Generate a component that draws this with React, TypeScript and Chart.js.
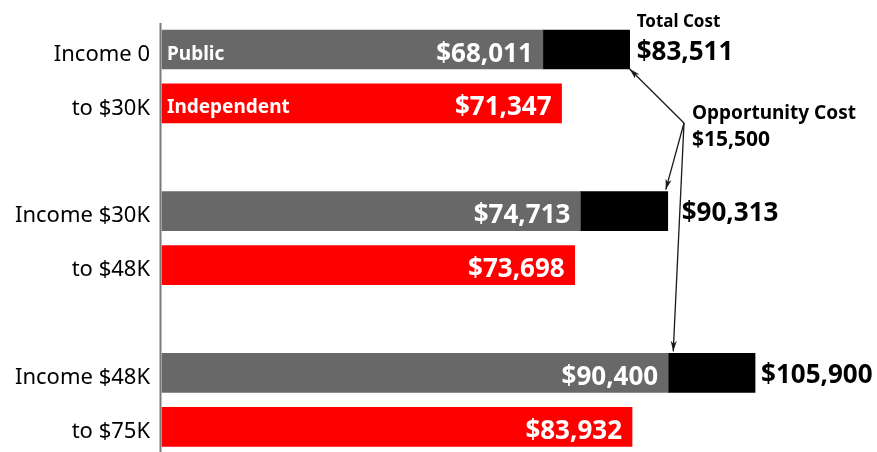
import { useEffect, useRef } from "react";
import { Chart, registerables } from "chart.js";

Chart.register(...registerables);

const FONT = '"Noto Sans", sans-serif';

// ---- data ----
const categories = ["Income 0", "to $30K", "", "Income $30K", "to $48K", "", "Income $48K", "to $75K"];
const publicRows = [0, 3, 6];
const independentRows = [1, 4, 7];
const publicCost = [68011, 74713, 90400];
const opportunityCost = [15500, 15600, 15500];
const totalCost = [83511, 90313, 105900];
const independentCost = [71347, 73698, 83932];
const opportunityLabel = "$15,500";

const GRAY = "#686868";
const RED = "#ff0000";
const BLACK = "#000000";

const fmt = (v: number) => "$" + v.toLocaleString("en-US");

function spread(rows: number[], vals: number[]) {
  const arr: (number | null)[] = categories.map(() => null);
  rows.forEach((r, i) => (arr[r] = vals[i]));
  return arr;
}

function drawArrow(ctx: CanvasRenderingContext2D, x0: number, y0: number, x1: number, y1: number) {
  ctx.beginPath();
  ctx.moveTo(x0, y0);
  ctx.lineTo(x1, y1);
  ctx.stroke();
  const a = Math.atan2(y1 - y0, x1 - x0);
  const L = 11;
  const w = 0.28;
  ctx.beginPath();
  ctx.moveTo(x1, y1);
  ctx.lineTo(x1 - L * Math.cos(a - w), y1 - L * Math.sin(a - w));
  ctx.lineTo(x1 - L * 0.7 * Math.cos(a), y1 - L * 0.7 * Math.sin(a));
  ctx.lineTo(x1 - L * Math.cos(a + w), y1 - L * Math.sin(a + w));
  ctx.closePath();
  ctx.fill();
}

const annotationPlugin = {
  id: "annotations",
  afterDatasetsDraw(chart: any) {
    const ctx: CanvasRenderingContext2D = chart.ctx;
    const xs = chart.scales.x;
    const area = chart.chartArea;
    const pubMeta = chart.getDatasetMeta(0);
    const oppMeta = chart.getDatasetMeta(1);
    const indMeta = chart.getDatasetMeta(2);
    ctx.save();

    // axis line
    ctx.strokeStyle = "#7a7a7a";
    ctx.lineWidth = 2;
    ctx.beginPath();
    ctx.moveTo(area.left - 1.5, 23);
    ctx.lineTo(area.left - 1.5, chart.height);
    ctx.stroke();

    // values inside bars
    ctx.fillStyle = "#ffffff";
    ctx.textAlign = "right";
    ctx.textBaseline = "alphabetic";
    ctx.font = `bold 26px ${FONT}`;
    publicRows.forEach((r, i) => {
      const el = pubMeta.data[r];
      ctx.fillText(fmt(publicCost[i]), el.x - 10, el.y + 12);
    });
    independentRows.forEach((r, i) => {
      const el = indMeta.data[r];
      ctx.fillText(fmt(independentCost[i]), el.x - 10, el.y + 12);
    });

    // series names
    ctx.textAlign = "left";
    ctx.font = `bold 19px ${FONT}`;
    const p0 = pubMeta.data[publicRows[0]];
    ctx.fillText("Public", p0.base + 5, p0.y + 10);
    const i0 = indMeta.data[independentRows[0]];
    ctx.fillText("Independent", i0.base + 5, i0.y + 10);

    // totals
    ctx.fillStyle = "#000000";
    ctx.font = `bold 26px ${FONT}`;
    const totalOffsets = [7, 14, 6];
    publicRows.forEach((r, i) => {
      const el = oppMeta.data[r];
      ctx.fillText(fmt(totalCost[i]), el.x + totalOffsets[i], el.y + 10);
    });
    const t0 = oppMeta.data[publicRows[0]];
    ctx.font = `bold 17px ${FONT}`;
    ctx.fillText("Total Cost", t0.x + 7, t0.y - 23);

    // opportunity cost note
    const noteX = 692;
    const noteY = 119;
    ctx.font = `bold 19px ${FONT}`;
    ctx.fillText("Opportunity Cost", noteX, noteY);
    ctx.font = `bold 21px ${FONT}`;
    ctx.fillText(opportunityLabel, noteX, noteY + 27);

    // arrows
    const ox = noteX - 8;
    const oy = noteY + 4;
    ctx.strokeStyle = "#1a1a1a";
    ctx.fillStyle = "#1a1a1a";
    ctx.lineWidth = 1.3;
    const a0 = oppMeta.data[publicRows[0]];
    drawArrow(ctx, ox, oy, a0.x, a0.y + a0.height / 2);
    const a1 = oppMeta.data[publicRows[1]];
    drawArrow(ctx, ox, oy, a1.x - 2, a1.y - a1.height / 2 - 2);
    const a2 = oppMeta.data[publicRows[2]];
    drawArrow(ctx, ox, oy, xs.getPixelForValue(publicCost[2]) + 5, a2.y - a2.height / 2 - 2);

    ctx.restore();
  },
};

export default function App() {
  const ref = useRef<HTMLCanvasElement>(null);
  useEffect(() => {
    if (!ref.current) return;
    const chart = new Chart(ref.current, {
      type: "bar",
      data: {
        labels: categories,
        datasets: [
          { label: "Public", data: spread(publicRows, publicCost), backgroundColor: GRAY },
          { label: "Opportunity Cost", data: spread(publicRows, opportunityCost), backgroundColor: BLACK },
          { label: "Independent", data: spread(independentRows, independentCost), backgroundColor: RED },
        ].map((d) => ({ ...d, barThickness: 39, borderWidth: 0, clip: false as any })),
      },
      options: {
        indexAxis: "y",
        responsive: false,
        animation: false,
        devicePixelRatio: 1,
        layout: { padding: { top: 49.5, bottom: 23, left: 0, right: 15 } },
        scales: {
          x: { type: "linear", min: 0, max: 125000, stacked: true, display: false },
          y: {
            type: "category",
            stacked: true,
            offset: false,
            grid: { display: false, drawTicks: false },
            border: { display: false },
            ticks: {
              autoSkip: false,
              padding: 12,
              labelOffset: 5,
              color: "#000",
              font: { family: FONT, size: 22 },
            },
            afterFit: (s: any) => {
              s.width = 162;
            },
          },
        },
        plugins: {
          legend: { display: false },
          tooltip: { enabled: false },
        },
      },
      plugins: [annotationPlugin],
    });
    return () => chart.destroy();
  }, []);
  return (
    <div style={{ position: "absolute", left: 0, top: 0, width: 877, height: 452 }}>
      <canvas ref={ref} width={877} height={452} />
    </div>
  );
}
